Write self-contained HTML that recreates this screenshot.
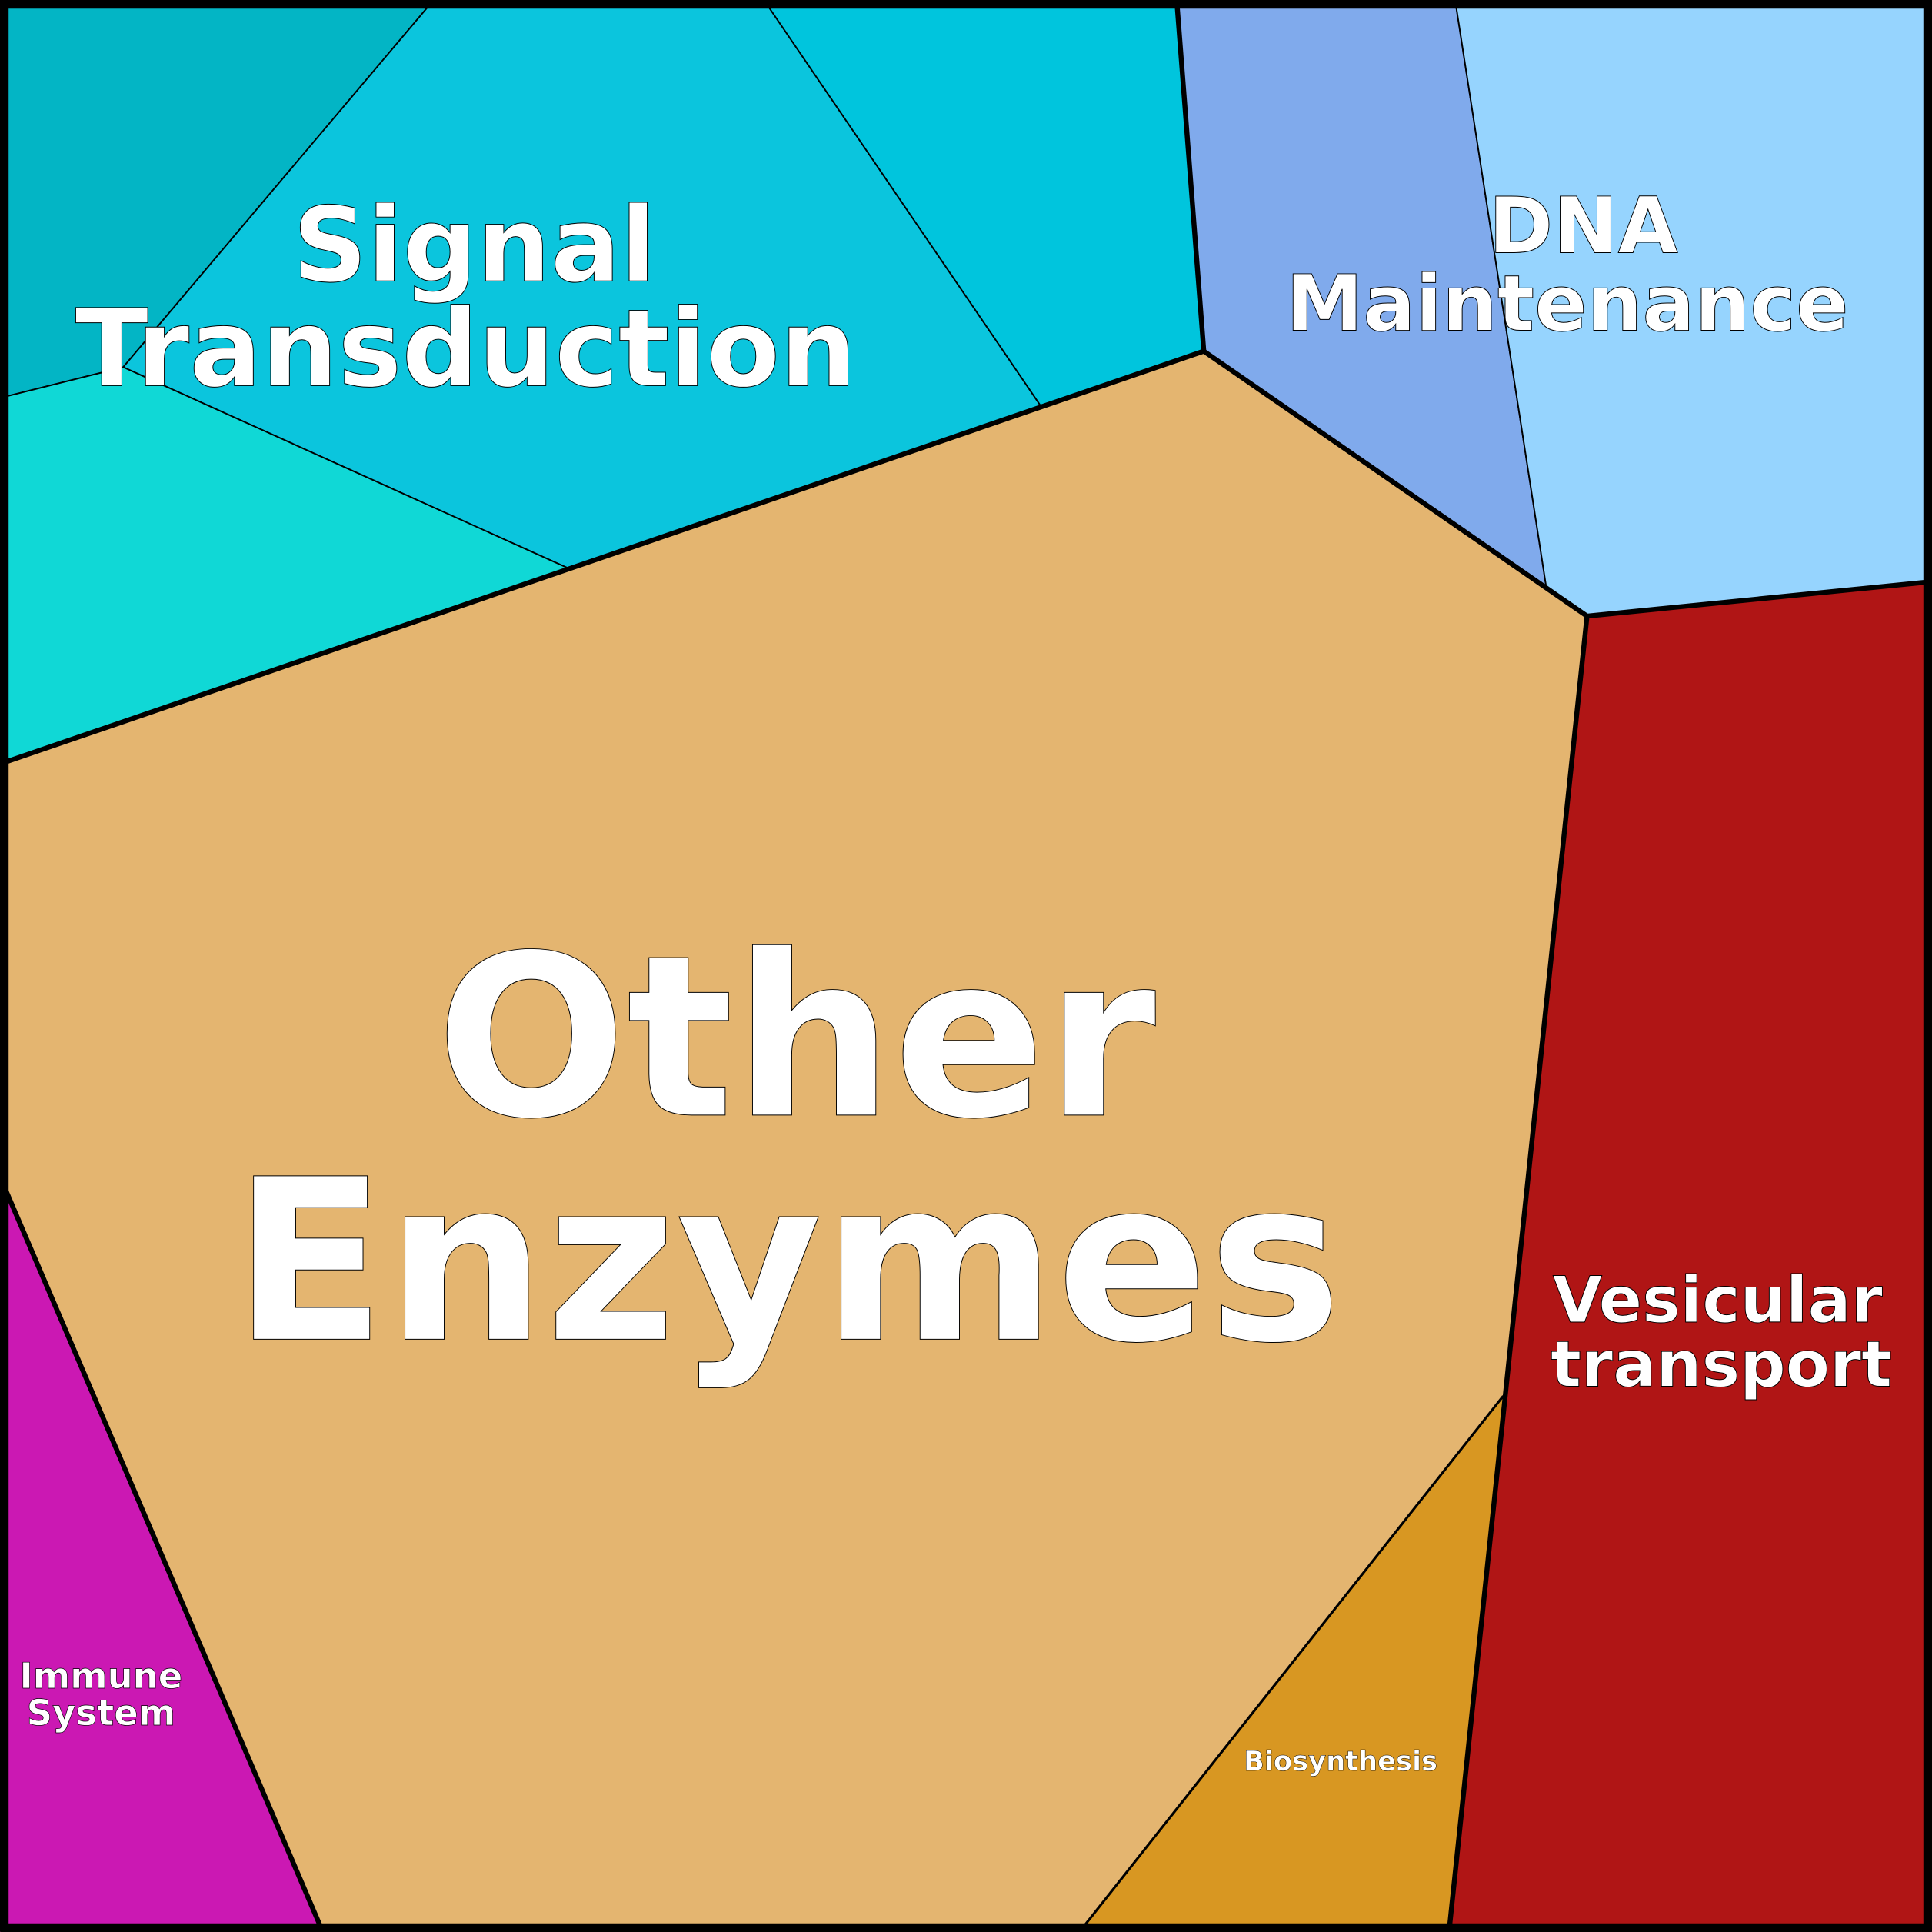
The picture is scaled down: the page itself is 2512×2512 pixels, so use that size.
<!DOCTYPE html>
<html><head><style>html,body{margin:0;padding:0;background:#000}svg{display:block}</style></head>
<body>
<svg width="2512" height="2512" viewBox="0 0 1568 1568" xmlns="http://www.w3.org/2000/svg">
<g stroke="#000" stroke-linejoin="round">
<polygon points="0,0 352,0 100,298 0,323" fill="#03b5c5" stroke-width="1.2"/>
<polygon points="352,0 620,0 845,330 463,462 100,298" fill="#0bc5dd" stroke-width="1.2"/>
<polygon points="620,0 955,0 977,285 845,330" fill="#00c5dd" stroke-width="1.2"/>
<polygon points="0,323 100,298 463,462 0,620" fill="#10d8d6" stroke-width="1.2"/>
<polygon points="955,0 1181,0 1255,477 977,285" fill="#80aaec" stroke-width="1.2"/>
<polygon points="1181,0 1568,0 1568,472 1288,500 1255,477" fill="#96d4fe" stroke-width="1.2"/>
<polygon points="1288,500 1568,472 1568,1568 1176,1568" fill="#b01515" stroke="none"/>
<polygon points="1220,1133 1176,1568 876,1568" fill="#d89722" stroke="none"/>
<polygon points="0,955 262,1568 0,1568" fill="#cb18b3" stroke="none"/>
<polygon points="0,620 977,285 1288,500 1220,1133 876,1568 262,1568 0,955" fill="#e4b570" stroke="none"/>
<polyline points="0,620 977,285 1288,500 1176,1568" fill="none" stroke-width="4"/>
<polyline points="1288,500 1568,472" fill="none" stroke-width="4"/>
<polyline points="0,955 262,1568" fill="none" stroke-width="4"/>
<polyline points="1220,1133 876,1568" fill="none" stroke-width="2"/>
<polyline points="955,0 977,285" fill="none" stroke-width="4"/>
<rect x="3" y="3" width="1562" height="1562" fill="none" stroke-width="8"/>
</g>
<g font-family="'DejaVu Sans','Liberation Sans',sans-serif" font-weight="bold" fill="#fff" stroke="#000" stroke-width="0.6" text-anchor="middle">
<text x="385" y="228" font-size="84">Signal</text>
<text x="378" y="313" font-size="87">Transduction</text>
<text x="1285" y="205" font-size="63">DNA</text>
<text x="1272" y="268" font-size="63">Maintenance</text>
<text x="646" y="905" font-size="182">Other</text>
<text x="639" y="1087" font-size="182">Enzymes</text>
<text x="1394" y="1073" font-size="52">Vesicular</text>
<text x="1397" y="1125" font-size="52">transport</text>
<text x="82" y="1370" font-size="29" stroke-width="0.4">Immune</text>
<text x="82" y="1400" font-size="29" stroke-width="0.4">System</text>
<text x="1088" y="1437" font-size="22" stroke-width="0.3">Biosynthesis</text>
</g>
</svg>
</body></html>
